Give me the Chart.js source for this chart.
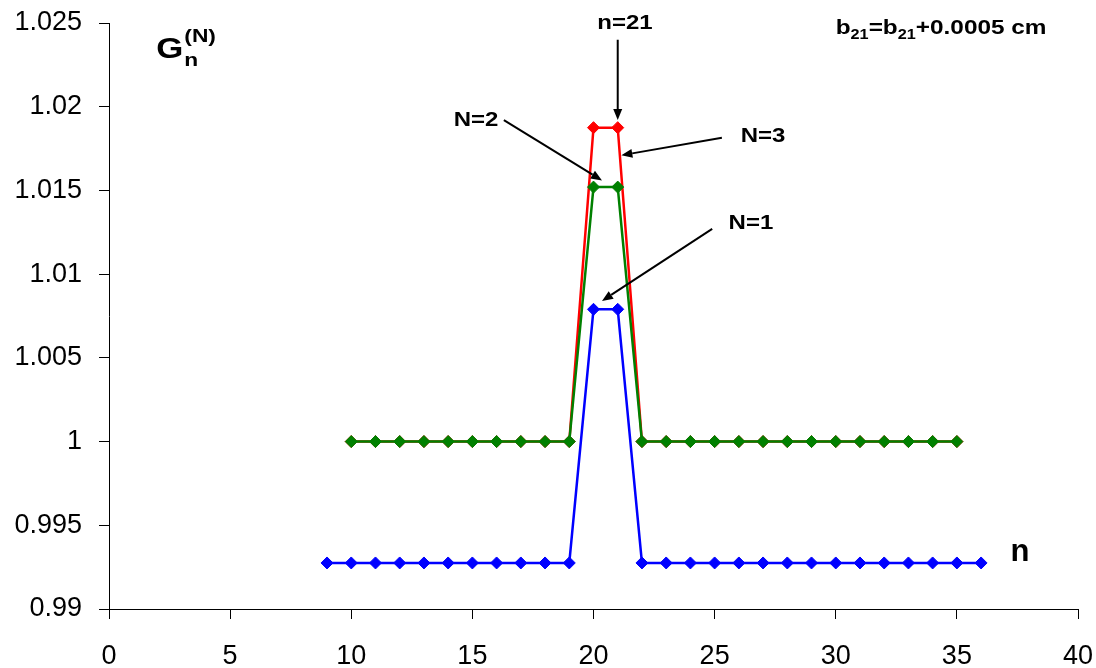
<html>

<head>
    <script src="https://cdn.jsdelivr.net/npm/chart.js"></script>
    <style>
        html, body {
            margin: 0;
            padding: 0;
            overflow: hidden;
            background-color: #ffffff;
        }

        #wrap {
            position: relative;
            width: 1096px;
            height: 668px;
        }

        canvas {
            display: block;
        }
    </style>
</head>

<body>
    <div id="wrap"><canvas id="myChart"></canvas></div>
</body>
<script>
    // n values for each curve
    var nBlue = [9, 10, 11, 12, 13, 14, 15, 16, 17, 18, 19, 20, 21, 22, 23, 24, 25, 26, 27, 28, 29, 30, 31, 32, 33, 34, 35, 36];
    var nGreen = [10, 11, 12, 13, 14, 15, 16, 17, 18, 19, 20, 21, 22, 23, 24, 25, 26, 27, 28, 29, 30, 31, 32, 33, 34, 35];
    var nRed = [10, 11, 12, 13, 14, 15, 16, 17, 18, 19, 20, 21, 22, 23, 24, 25, 26, 27, 28, 29, 30, 31, 32, 33, 34, 35];

    // G_n^(N) values
    var gN1 = [0.99275, 0.99275, 0.99275, 0.99275, 0.99275, 0.99275, 0.99275, 0.99275, 0.99275, 0.99275, 0.99275,
        1.0079, 1.0079,
        0.99275, 0.99275, 0.99275, 0.99275, 0.99275, 0.99275, 0.99275, 0.99275, 0.99275, 0.99275, 0.99275, 0.99275, 0.99275, 0.99275, 0.99275];
    var gN2 = [1, 1, 1, 1, 1, 1, 1, 1, 1, 1,
        1.0152, 1.0152,
        1, 1, 1, 1, 1, 1, 1, 1, 1, 1, 1, 1, 1, 1];
    var gN3 = [1, 1, 1, 1, 1, 1, 1, 1, 1, 1,
        1.01875, 1.01875,
        1, 1, 1, 1, 1, 1, 1, 1, 1, 1, 1, 1, 1, 1];

    var xTicks = { min: 0, max: 40, step: 5 };
    var yTicks = { min: 0.99, max: 1.025, step: 0.005 };

    // text labels and arrows, in data units
    var notes = [
        { text: 'n=21', x: 21.3, y: 1.0250 },
        { text: 'N=2', x: 15.15, y: 1.0192 },
        { text: 'N=3', x: 27.0, y: 1.0182 },
        { text: 'N=1', x: 26.5, y: 1.0130 }
    ];
    var arrows = [
        { x1: 21, y1: 1.0240, x2: 21, y2: 1.0192 },
        { x1: 16.3, y1: 1.0192, x2: 20.35, y2: 1.0156 },
        { x1: 25.3, y1: 1.01815, x2: 21.15, y2: 1.0171 },
        { x1: 24.9, y1: 1.0127, x2: 20.35, y2: 1.0084 }
    ];

    function toPoints(xs, ys) {
        var pts = [];
        for (var i = 0; i < xs.length; i++) {
            pts.push({ x: xs[i], y: ys[i] });
        }
        return pts;
    }

    function makeSet(label, color, xs, ys, order) {
        return {
            label: label,
            data: toPoints(xs, ys),
            borderColor: color,
            backgroundColor: color,
            borderWidth: 2.5,
            pointStyle: 'rectRot',
            pointRadius: 6,
            pointBorderWidth: 1,
            pointBackgroundColor: color,
            pointBorderColor: color,
            tension: 0,
            order: order
        };
    }

    var font = "'Liberation Sans', Arial, sans-serif";

    function drawArrow(ctx, x1, y1, x2, y2) {
        var ang = Math.atan2(y2 - y1, x2 - x1);
        var head = 11, half = 4.5;
        ctx.beginPath();
        ctx.moveTo(x1, y1);
        ctx.lineTo(x2 - Math.cos(ang) * head, y2 - Math.sin(ang) * head);
        ctx.stroke();
        ctx.beginPath();
        ctx.moveTo(x2, y2);
        ctx.lineTo(x2 - Math.cos(ang) * head - Math.sin(ang) * half, y2 - Math.sin(ang) * head + Math.cos(ang) * half);
        ctx.lineTo(x2 - Math.cos(ang) * head + Math.sin(ang) * half, y2 - Math.sin(ang) * head - Math.cos(ang) * half);
        ctx.closePath();
        ctx.fill();
    }

    // the original's text looks a bit wider than the font, so stretch it sideways
    function wideText(ctx, text, x, y, k) {
        ctx.save();
        ctx.translate(x, y);
        ctx.scale(k, 1);
        ctx.fillText(text, 0, 0);
        ctx.restore();
    }

    var notesPlugin = {
        id: 'notes',
        afterDatasetsDraw: function (chart) {
            var ctx = chart.ctx;
            var sx = chart.scales.x, sy = chart.scales.y;
            ctx.save();
            ctx.fillStyle = '#000';
            ctx.strokeStyle = '#000';
            ctx.lineWidth = 2;

            arrows.forEach(function (a) {
                drawArrow(ctx, sx.getPixelForValue(a.x1), sy.getPixelForValue(a.y1),
                    sx.getPixelForValue(a.x2), sy.getPixelForValue(a.y2));
            });

            ctx.textAlign = 'center';
            ctx.textBaseline = 'middle';
            ctx.font = 'bold 20px ' + font;
            notes.forEach(function (n) {
                wideText(ctx, n.text, sx.getPixelForValue(n.x), sy.getPixelForValue(n.y), 1.2);
            });

            // axis name n
            ctx.font = 'bold 31px ' + font;
            ctx.fillText('n', sx.getPixelForValue(37.6), sy.getPixelForValue(0.9934));

            // G_n^(N)
            ctx.textAlign = 'left';
            ctx.textBaseline = 'alphabetic';
            var k = 1.2;
            var gx = sx.getPixelForValue(1.95), gy = sy.getPixelForValue(1.0229);
            ctx.font = 'bold 29px ' + font;
            wideText(ctx, 'G', gx, gy, k);
            var w = ctx.measureText('G').width * k;
            ctx.font = 'bold 19px ' + font;
            wideText(ctx, 'n', gx + w + 1, gy + 8, k);
            wideText(ctx, '(N)', gx + w + 1, gy - 16, k);

            // b21 = b21 + 0.0005 cm, right aligned
            var parts = [
                ['b', 'bold 21px', 0], ['21', 'bold 14px', 5], ['=b', 'bold 21px', 0],
                ['21', 'bold 14px', 5], ['+0.0005 cm', 'bold 21px', 0]
            ];
            var kb = 1.16;
            var total = 0;
            parts.forEach(function (p) {
                ctx.font = p[1] + ' ' + font;
                total += ctx.measureText(p[0]).width * kb;
            });
            var bx = sx.getPixelForValue(38.7) - total, by = sy.getPixelForValue(1.02435);
            parts.forEach(function (p) {
                ctx.font = p[1] + ' ' + font;
                wideText(ctx, p[0], bx, by + p[2], kb);
                bx += ctx.measureText(p[0]).width * kb;
            });
            ctx.restore();
        }
    };

    var paintingCanvas = document.getElementById('myChart').getContext('2d');
    var chart = new Chart(paintingCanvas, {
        type: 'line',
        data: {
            datasets: [
                makeSet('N=1', '#0000ff', nBlue, gN1, 0),
                makeSet('N=2', '#008000', nGreen, gN2, 1),
                makeSet('N=3', '#ff0000', nRed, gN3, 2)
            ]
        },
        options: {
            responsive: true,
            maintainAspectRatio: false,
            animation: false,
            layout: { padding: { top: 23, right: 18, left: 0, bottom: 0 } },
            plugins: {
                legend: { display: false },
                tooltip: { enabled: false }
            },
            scales: {
                x: {
                    type: 'linear',
                    min: xTicks.min,
                    max: xTicks.max,
                    border: { display: true, color: '#000', width: 1 },
                    grid: { drawOnChartArea: false, drawTicks: true, tickLength: 10, color: '#000' },
                    ticks: {
                        stepSize: xTicks.step,
                        color: '#000',
                        padding: 21,
                        font: { family: font, size: 27 }
                    },
                    afterFit: function (scale) {
                        scale.height = 59;
                        scale.paddingLeft = 0;
                        scale.paddingRight = 0;
                    }
                },
                y: {
                    type: 'linear',
                    min: yTicks.min,
                    max: yTicks.max,
                    border: { display: true, color: '#000', width: 1 },
                    grid: { drawOnChartArea: false, drawTicks: true, tickLength: 10, color: '#000' },
                    ticks: {
                        stepSize: yTicks.step,
                        color: '#000',
                        padding: 17,
                        font: { family: font, size: 27 },
                        callback: function (v) { return String(parseFloat(v.toFixed(4))); }
                    },
                    afterFit: function (scale) {
                        scale.width = 109;
                        scale.paddingTop = 0;
                        scale.paddingBottom = 0;
                    }
                }
            }
        },
        plugins: [notesPlugin]
    });
</script>

</html>
